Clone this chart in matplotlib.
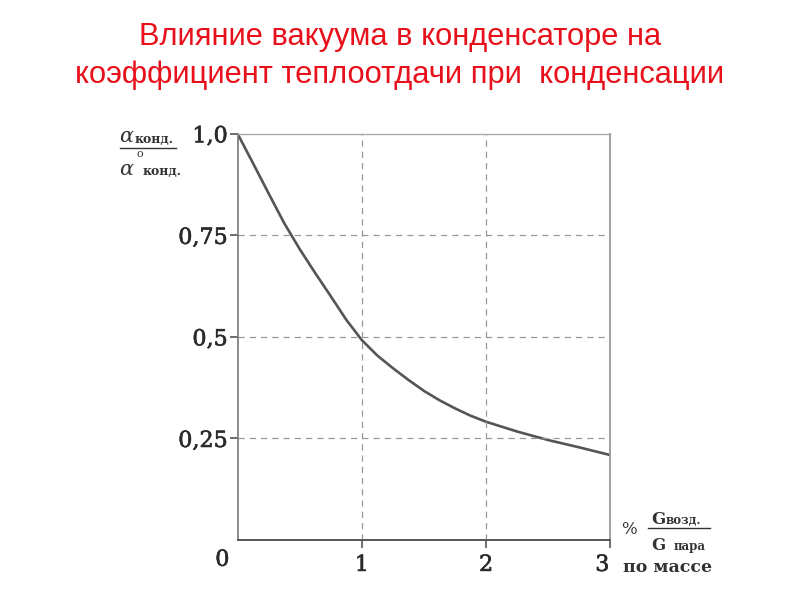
import numpy as np
import matplotlib.pyplot as plt
import matplotlib.patheffects as pe
from matplotlib.transforms import ScaledTranslation

# данные кривой
g_ratio = [0, 0.125, 0.25, 0.375, 0.5, 0.625, 0.75, 0.875, 1.0, 1.125, 1.25,
           1.375, 1.5, 1.625, 1.75, 1.875, 2.0, 2.25, 2.5, 2.75, 3.0]
alpha_ratio = [1.0, 0.927, 0.853, 0.78, 0.716, 0.657, 0.6, 0.542, 0.492, 0.454, 0.423,
               0.394, 0.367, 0.344, 0.324, 0.306, 0.291, 0.267, 0.246, 0.228, 0.209]

x_ticks = [1, 2, 3]
x_labels = ['1', '2', '3']
y_ticks = [0.25, 0.5, 0.75, 1.0]
y_labels = ['0,25', '0,5', '0,75', '1,0']

title_1 = 'Влияние вакуума в конденсаторе на'
title_2 = 'коэффициент теплоотдачи при  конденсации'

serif = ['DejaVu Serif']
ink = '#2a2a2a'
heavy = [pe.withStroke(linewidth=0.45, foreground=ink)]

fig = plt.figure(figsize=(8, 6), dpi=100)
ax = fig.add_axes([0.297, 0.1, 0.466, 0.677])

ax.plot(g_ratio, alpha_ratio, color='#555555', linewidth=1.9, solid_capstyle='round')

ax.set_xlim(0, 3)
ax.set_ylim(0, 1.0)

# сетка
for xv in [1, 2]:
    ax.axvline(xv, color='#999999', linestyle=(0, (5, 4)), linewidth=0.9)
for yv in [0.25, 0.5, 0.75]:
    ax.axhline(yv, color='#999999', linestyle=(0, (5, 4)), linewidth=0.9)

ax.spines['top'].set_color('#aaaaaa')
ax.spines['top'].set_linewidth(1.0)
ax.spines['right'].set_color('#999999')
ax.spines['right'].set_linewidth(1.3)
ax.spines['left'].set_color('#777777')
ax.spines['left'].set_linewidth(1.2)
ax.spines['bottom'].set_color('#555555')
ax.spines['bottom'].set_linewidth(1.4)

ax.set_xticks(x_ticks)
ax.set_xticklabels(x_labels, fontfamily=serif, fontsize=16, color=ink)
ax.set_yticks(y_ticks)
ax.set_yticklabels(y_labels, fontfamily=serif, fontsize=16, color=ink)
ax.tick_params(axis='both', length=6, width=1.2, color='#555555', direction='out')
ax.tick_params(axis='x', pad=4)
ax.tick_params(axis='y', pad=1)
for lab in ax.get_xticklabels() + ax.get_yticklabels():
    lab.set_path_effects(heavy)
# последняя подпись по x в оригинале сдвинута влево
last = ax.get_xticklabels()[-1]
last.set_transform(last.get_transform() + ScaledTranslation(-8 / 100, 0, fig.dpi_scale_trans))

fig.text(0.278, 0.067, '0', fontfamily=serif, fontsize=16,
         color=ink, ha='center', va='center', path_effects=heavy)

# подпись оси y
fig.text(0.149, 0.763, 'α', fontfamily=serif, fontsize=15, style='italic', color='#333333',
         ha='left', va='baseline')
fig.text(0.168, 0.762, 'конд.', fontfamily=serif, fontsize=9, fontweight='bold', color='#333333',
         ha='left', va='baseline')
fig.add_artist(plt.Line2D([0.15, 0.22], [0.753, 0.753], color='#333333', linewidth=1.0))
fig.text(0.149, 0.709, 'α', fontfamily=serif, fontsize=15, style='italic', color='#333333',
         ha='left', va='baseline')
fig.text(0.171, 0.739, 'o', fontfamily=serif, fontsize=8, color='#333333',
         ha='left', va='baseline')
fig.text(0.178, 0.708, 'конд.', fontfamily=serif, fontsize=9, fontweight='bold', color='#333333',
         ha='left', va='baseline')

# подпись оси x
fig.text(0.777, 0.118, '%', fontfamily=serif, fontsize=12, color='#333333',
         ha='left', va='center')
fig.text(0.814, 0.126, 'G', fontfamily=serif, fontsize=12, fontweight='bold',
         color='#333333', ha='left', va='baseline')
fig.text(0.832, 0.126, 'возд.', fontfamily=serif, fontsize=8.5, fontweight='bold',
         color='#333333', ha='left', va='baseline')
fig.add_artist(plt.Line2D([0.81, 0.888], [0.12, 0.12], color='#333333', linewidth=1.0))
fig.text(0.814, 0.084, 'G', fontfamily=serif, fontsize=12, fontweight='bold',
         color='#333333', ha='left', va='baseline')
fig.text(0.842, 0.084, 'пара', fontfamily=serif, fontsize=8.5, fontweight='bold',
         color='#333333', ha='left', va='baseline')
fig.text(0.779, 0.055, 'по массе', fontfamily=serif, fontsize=12.5, fontweight='bold',
         color='#333333', ha='left', va='center')

title_font = ['Liberation Sans', 'DejaVu Sans']
fig.text(0.5, 0.925, title_1, fontfamily=title_font, fontsize=22.2,
         color='#e8101a', ha='center', va='baseline')
fig.text(0.5, 0.862, title_2, fontfamily=title_font, fontsize=22.2,
         color='#e8101a', ha='center', va='baseline')

fig.savefig('out.png', dpi=100)
